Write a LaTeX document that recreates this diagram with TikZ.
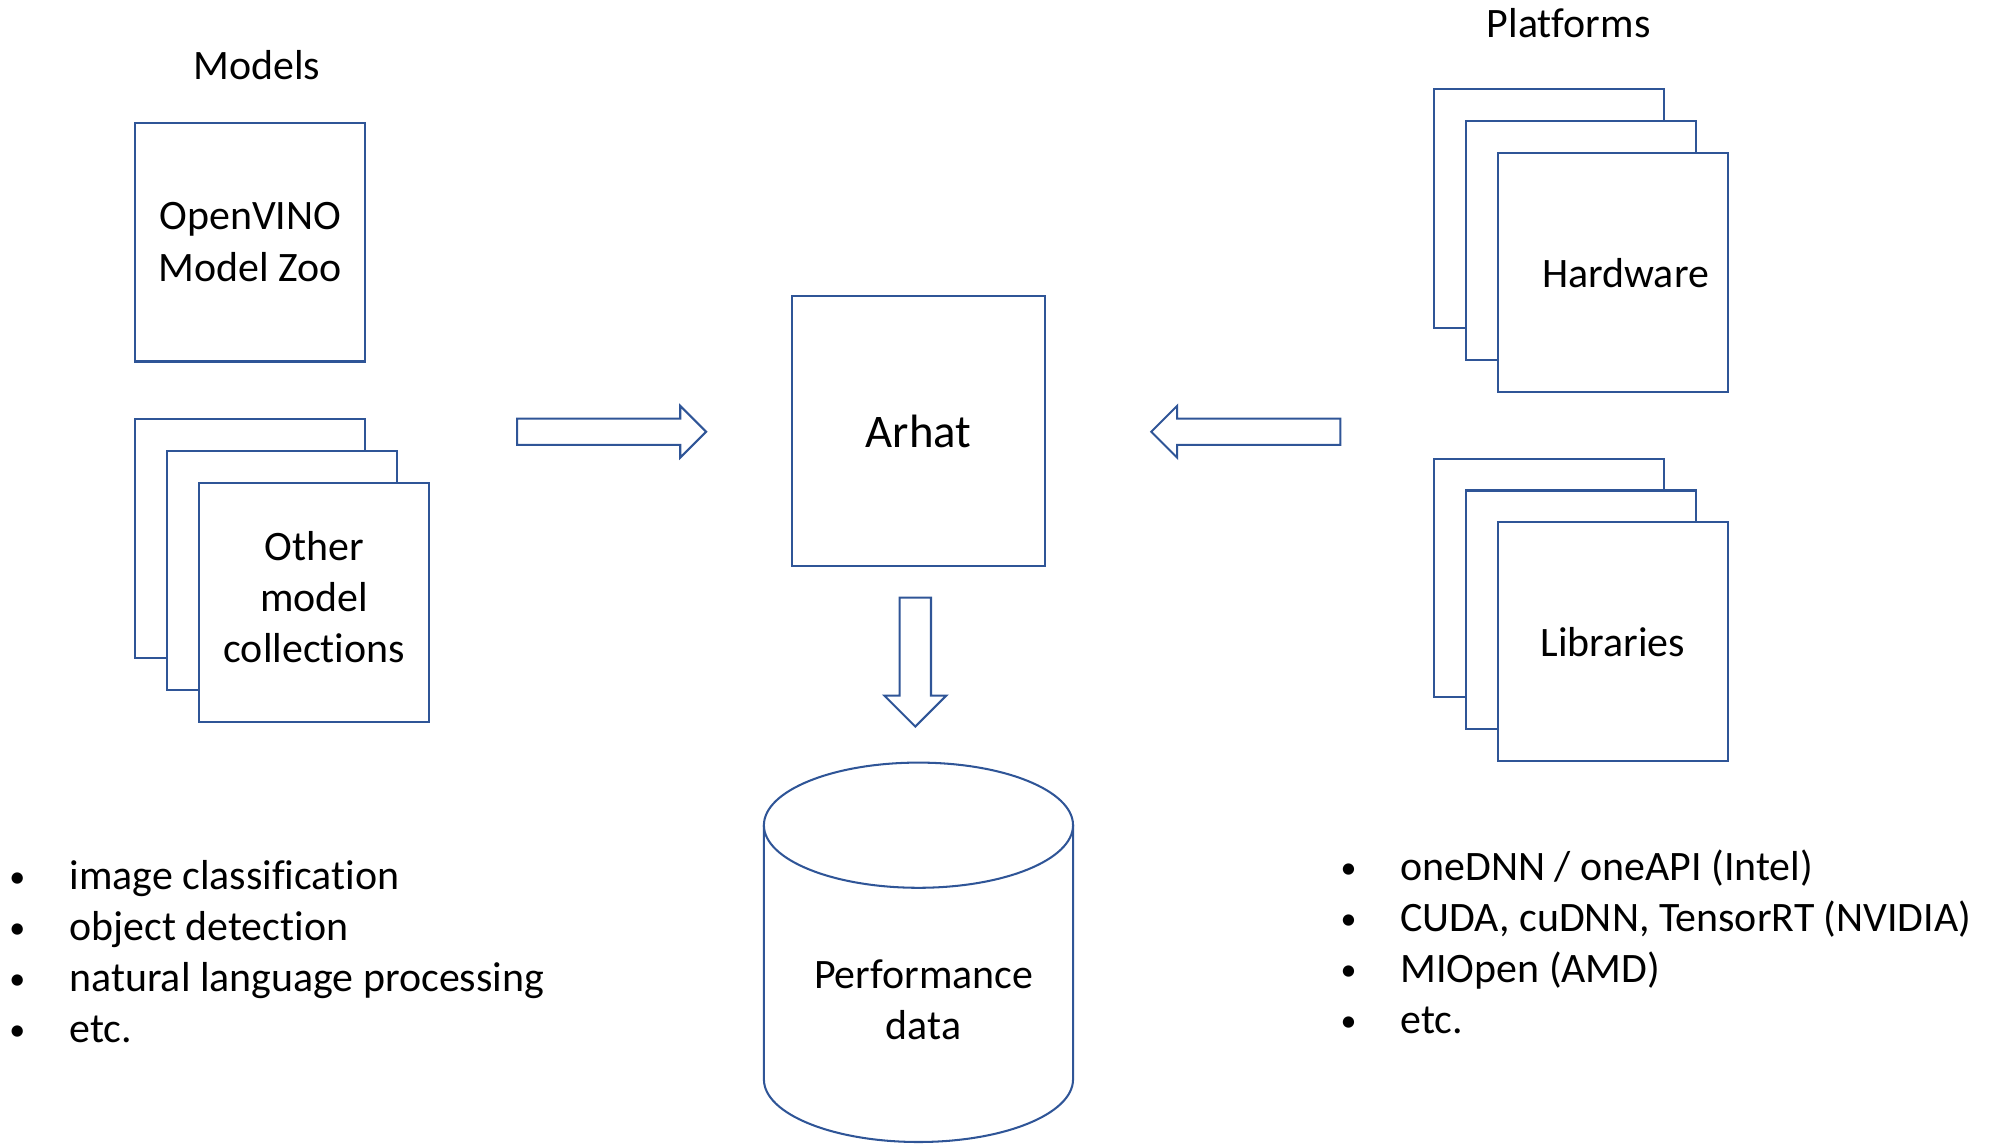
\documentclass[tikz,border=0pt]{standalone}
\usepackage{fontspec}
\setmainfont{Carlito}[Ligatures=CommonOff]
\usetikzlibrary{shapes.arrows}
\definecolor{boxblue}{HTML}{2F5597}
\newcommand{\blt}{\makebox[23.5pt][l]{\raisebox{0.6pt}{\fontsize{12.5}{12}\selectfont\textbullet}}}

\begin{document}
\begin{tikzpicture}[x=0.5pt,y=0.5pt,font=\fontsize{16.4}{20}\selectfont,
  card/.style={draw=boxblue,line width=0.8pt,fill=white,minimum width=90pt,
    minimum height=93.5pt,align=center,inner sep=0pt},
  hollow/.style={single arrow,draw=boxblue,line width=0.8pt,inner xsep=0pt,inner ysep=4.75pt,
    single arrow head extend=5pt,minimum width=0pt,minimum height=74pt,anchor=tail},
  item/.style={anchor=base west,inner sep=0pt}]
\useasboundingbox (0,0) rectangle (1568,897);

% models
\node (modelslbl) at (201,846) {Models};
\node[card] (zoo) at (196,707.5) {OpenVINO\\Model Zoo};
\node[card] (others3) at (196,475.5) {};
\node[card] (others2) at ([shift={(25,-25)}]others3) {};
\node[card] (others) at ([shift={(25,-25)}]others2) {Other\\model\\collections\\[-16pt]\mbox{}};

% platforms
\node (platlbl) at (1228,879) {Platforms};
\node[card] (hw3) at (1212.5,733.5) {};
\node[card] (hw2) at ([shift={(25,-25)}]hw3) {};
\node[card] (hw) at ([shift={(25,-25)}]hw2) {\hspace*{10pt}Hardware};
\node[card] (lib3) at (1212.5,444.5) {};
\node[card] (lib2) at ([shift={(25,-25)}]lib3) {};
\node[card] (lib) at ([shift={(25,-25)}]lib2) {Libraries};

% center
\node[card,minimum width=99pt,minimum height=105.5pt,
      font=\fontsize{18.3}{22}\selectfont] (arhat) at (719,559.5) {Arhat};
\node[hollow] (toarhat) at (404,559) {};
\node[hollow,rotate=180] (fromplat) at (1050,559) {};
\node[hollow,rotate=-90,inner ysep=5.75pt,minimum height=50.5pt,
      single arrow head extend=6pt] (todata) at (716.5,430) {};

% database
\draw[boxblue,line width=0.8pt] (598,251) -- (598,52)
  arc[start angle=180,end angle=360,x radius=60.5pt,y radius=24.5pt] -- (840,251);
\draw[boxblue,line width=0.8pt] (719,251) ellipse[x radius=60.5pt,y radius=24.5pt];
\node[align=center] (perf) at (723,114) {Performance\\data};

% lists
\foreach \t [count=\i] in {image classification,object detection,
    natural language processing,etc.}
  \node[item] (task\i) at (7,241-40*\i) {\blt\t};
\foreach \t [count=\i] in {{oneDNN / oneAPI (Intel)},{CUDA, cuDNN, TensorRT (NVIDIA)},
    {MIOpen (AMD)},etc.}
  \node[item] (lib\i) at (1049,248-40*\i) {\blt\t};
\end{tikzpicture}
\end{document}
